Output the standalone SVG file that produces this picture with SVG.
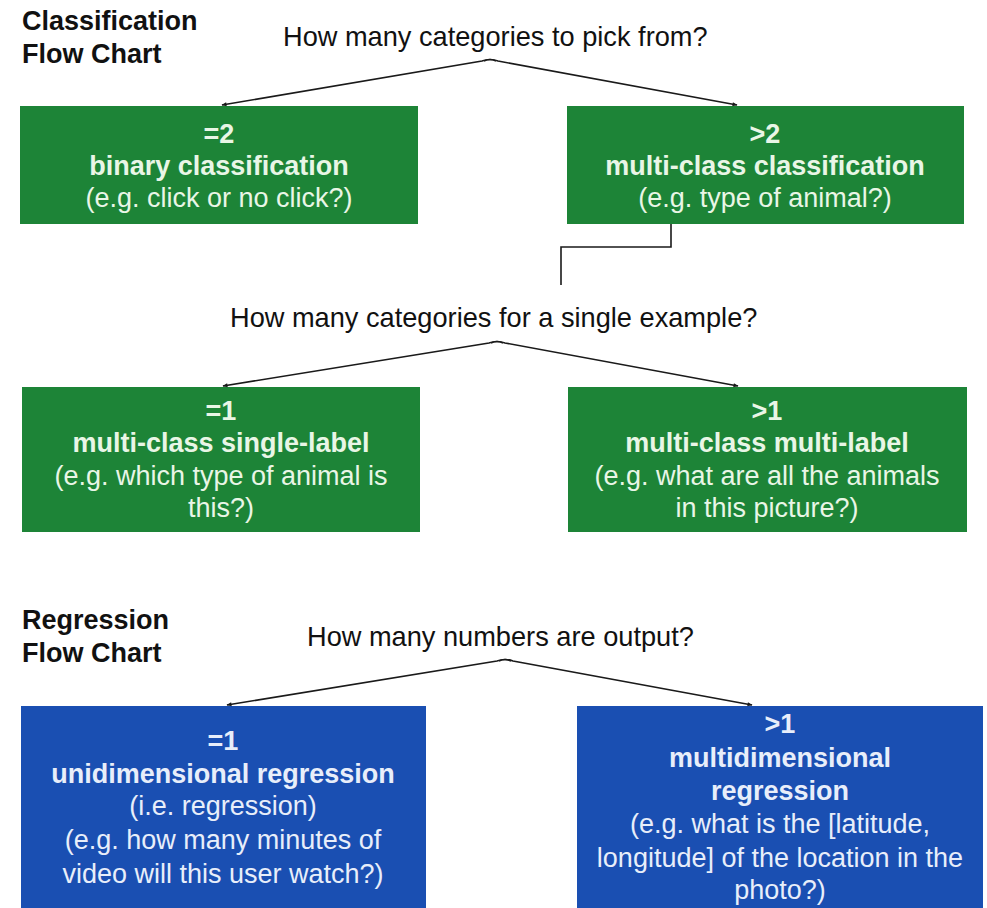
<svg xmlns="http://www.w3.org/2000/svg" width="987" height="908" viewBox="0 0 987 908">
  <style>
    .title { font-family: "Liberation Sans", Arial, sans-serif; font-size: 27px; font-weight: bold; fill: #111; }
    .question { font-family: "Liberation Sans", Arial, sans-serif; font-size: 27.2px; fill: #111; }
    .green { fill: #1d8437; }
    .blue { fill: #1a4fb2; }
    .label { font-family: "Liberation Sans", Arial, sans-serif; font-size: 27px; text-anchor: middle; }
    .green-text { fill: #e9f6e6; }
    .blue-text { fill: #e8eefa; }
    .b { font-weight: bold; }
    .edge { fill: none; stroke: #1a1a1a; stroke-width: 1.6; }
  </style>
  <defs>
    <marker id="arrow" viewBox="0 0 10 10" refX="9" refY="5" markerWidth="6" markerHeight="5" orient="auto-start-reverse" markerUnits="userSpaceOnUse">
      <path d="M0,1 L10,5 L0,9 z" fill="#1a1a1a"/>
    </marker>
  </defs>

  <rect width="987" height="908" fill="#ffffff"/>

  <!-- section titles -->
  <g id="classification-title">
    <text class="title" x="22" y="30">Classification</text>
    <text class="title" x="22" y="63">Flow Chart</text>
  </g>
  <g id="regression-title">
    <text class="title" x="22" y="629">Regression</text>
    <text class="title" x="22" y="662">Flow Chart</text>
  </g>

  <!-- decision questions -->
  <g id="q-categories">
    <text class="question" x="283" y="46">How many categories to pick from?</text>
  </g>
  <g id="q-single-example">
    <text class="question" x="230" y="327">How many categories for a single example?</text>
  </g>
  <g id="q-numbers">
    <text class="question" x="307" y="646">How many numbers are output?</text>
  </g>

  <!-- classification outcomes -->
  <g id="binary">
    <rect class="green" x="20" y="106" width="398" height="118"/>
    <text class="label green-text b" x="219" y="143">=2</text>
    <text class="label green-text b" x="219" y="175">binary classification</text>
    <text class="label green-text" x="219" y="207">(e.g. click or no click?)</text>
  </g>
  <g id="multiclass">
    <rect class="green" x="567" y="106" width="397" height="118"/>
    <text class="label green-text b" x="765" y="143">&gt;2</text>
    <text class="label green-text b" x="765" y="175">multi-class classification</text>
    <text class="label green-text" x="765" y="207">(e.g. type of animal?)</text>
  </g>
  <g id="single-label">
    <rect class="green" x="22" y="387" width="398" height="145"/>
    <text class="label green-text b" x="221" y="420">=1</text>
    <text class="label green-text b" x="221" y="452">multi-class single-label</text>
    <text class="label green-text" x="221" y="485">(e.g. which type of animal is</text>
    <text class="label green-text" x="221" y="517">this?)</text>
  </g>
  <g id="multi-label">
    <rect class="green" x="568" y="387" width="399" height="145"/>
    <text class="label green-text b" x="767" y="420">&gt;1</text>
    <text class="label green-text b" x="767" y="452">multi-class multi-label</text>
    <text class="label green-text" x="767" y="485">(e.g. what are all the animals</text>
    <text class="label green-text" x="767" y="517">in this picture?)</text>
  </g>

  <!-- regression outcomes -->
  <g id="unidimensional">
    <rect class="blue" x="21" y="706" width="405" height="210"/>
    <text class="label blue-text b" x="223" y="750">=1</text>
    <text class="label blue-text b" x="223" y="783">unidimensional regression</text>
    <text class="label blue-text" x="223" y="815">(i.e. regression)</text>
    <text class="label blue-text" x="223" y="849">(e.g. how many minutes of</text>
    <text class="label blue-text" x="223" y="883">video will this user watch?)</text>
  </g>
  <g id="multidimensional">
    <rect class="blue" x="577" y="706" width="406" height="210"/>
    <text class="label blue-text b" x="780" y="733">&gt;1</text>
    <text class="label blue-text b" x="780" y="767">multidimensional</text>
    <text class="label blue-text b" x="780" y="800">regression</text>
    <text class="label blue-text" x="780" y="833">(e.g. what is the [latitude,</text>
    <text class="label blue-text" x="780" y="867">longitude] of the location in the</text>
    <text class="label blue-text" x="780" y="899">photo?)</text>
  </g>

  <!-- connectors -->
  <g id="connectors">
    <path class="edge" marker-end="url(#arrow)" d="M496,61 Q490,58 482,61 L222,105"/>
    <path class="edge" marker-end="url(#arrow)" d="M484,61 Q490,58 498,61 L737,105"/>
    <path class="edge" d="M671,224 L671,247 L561,247 L561,285"/>
    <path class="edge" marker-end="url(#arrow)" d="M503,343 Q497,340 489,343 L223,386"/>
    <path class="edge" marker-end="url(#arrow)" d="M491,343 Q497,340 505,343 L738,386"/>
    <path class="edge" marker-end="url(#arrow)" d="M511,661 Q505,658 497,661 L227,705"/>
    <path class="edge" marker-end="url(#arrow)" d="M499,661 Q505,658 513,661 L752,705"/>
  </g>
</svg>
